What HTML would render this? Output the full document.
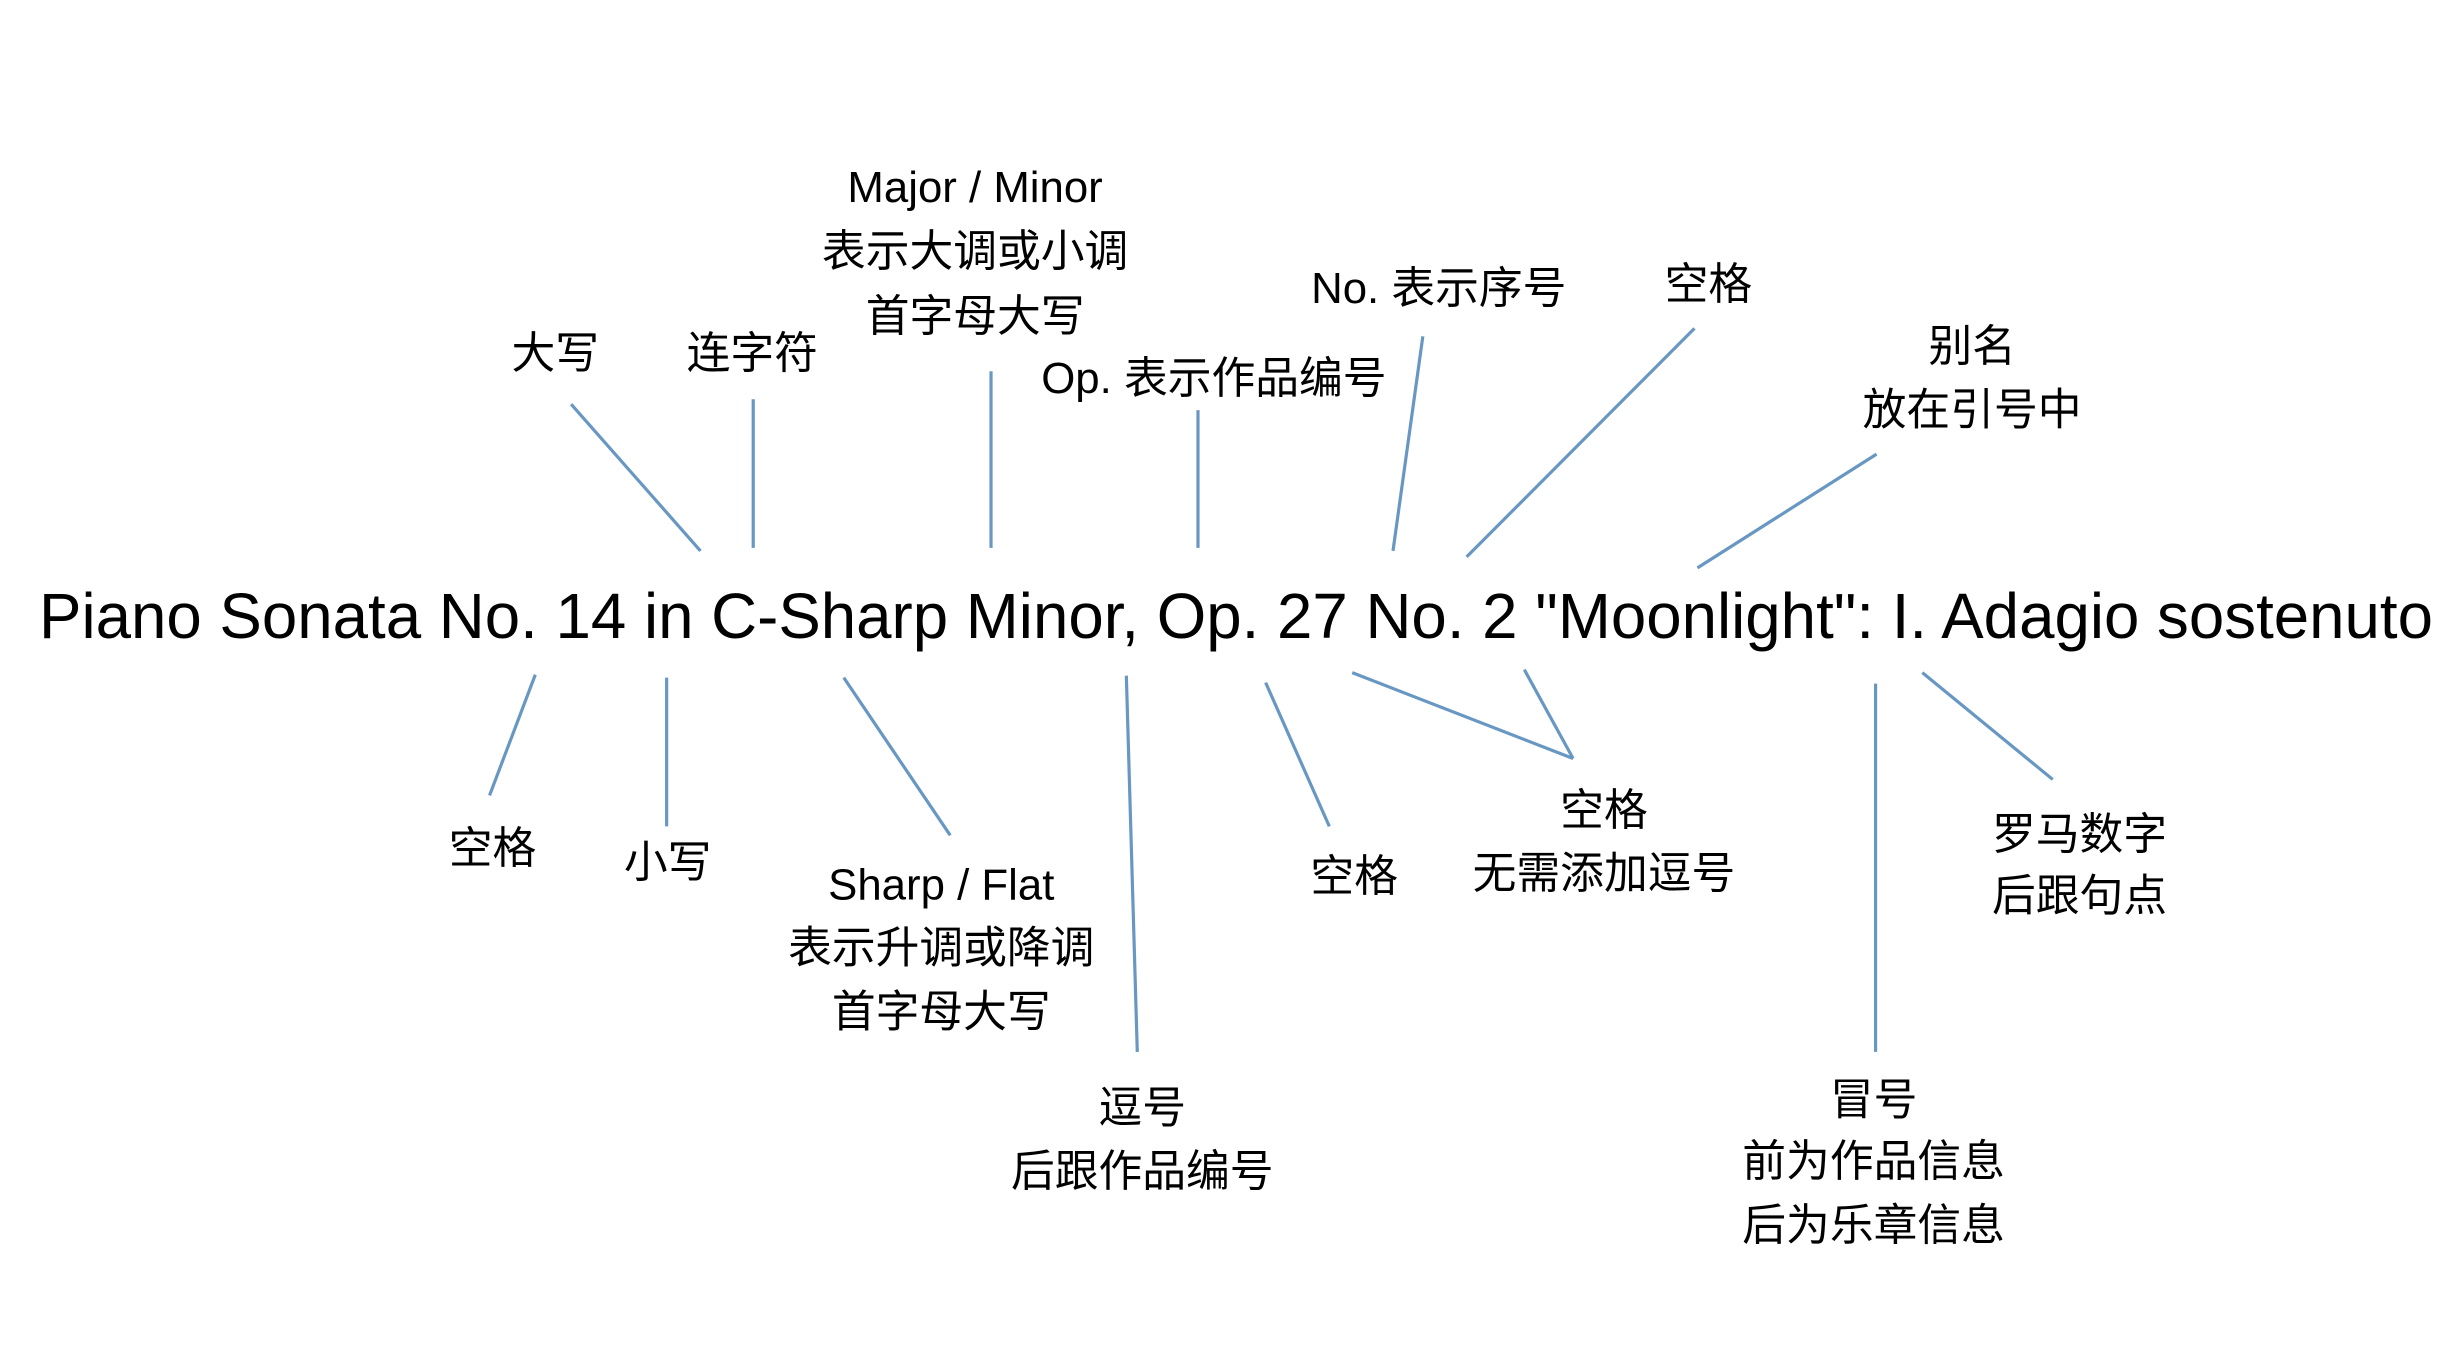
<!DOCTYPE html>
<html><head><meta charset="utf-8"><style>
html,body{margin:0;padding:0;background:#fff;}
svg{display:block;}
text{font-family:"Liberation Sans","Noto Sans CJK SC",sans-serif;fill:#000;}
.l{font-size:44px;text-anchor:middle;dominant-baseline:central;}
line{stroke:#6797c2;stroke-width:3.2;}
</style></head><body>
<svg width="2446" height="1350" viewBox="0 0 2446 1350" xmlns="http://www.w3.org/2000/svg">
<text x="39" y="638" font-size="64" textLength="2394" lengthAdjust="spacingAndGlyphs">Piano Sonata No. 14 in C-Sharp Minor, Op. 27 No. 2 "Moonlight": I. Adagio sostenuto</text>
<g transform="scale(0.995,0.998)">
<!-- top lines -->
<line x1="574" y1="405" x2="704" y2="552"/>
<line x1="757" y1="400" x2="757" y2="549"/>
<line x1="996" y1="372" x2="996" y2="549"/>
<line x1="1204" y1="411" x2="1204" y2="549"/>
<line x1="1430" y1="337" x2="1400" y2="552"/>
<line x1="1703" y1="329" x2="1474" y2="558"/>
<line x1="1886" y1="455" x2="1706" y2="569"/>
<!-- bottom lines -->
<line x1="538" y1="676" x2="492" y2="797"/>
<line x1="670" y1="679" x2="670" y2="828"/>
<line x1="848" y1="679" x2="955" y2="837"/>
<line x1="1132" y1="677" x2="1143" y2="1054"/>
<line x1="1272" y1="684" x2="1336" y2="828"/>
<line x1="1359" y1="674" x2="1581" y2="760"/>
<line x1="1532" y1="671" x2="1581" y2="760"/>
<line x1="1885" y1="685" x2="1885" y2="1054"/>
<line x1="1932" y1="674" x2="2063" y2="781"/>

<!-- top labels -->
<text class="l" x="558" y="354">大写</text>
<text class="l" x="756" y="354">连字符</text>
<text class="l" x="980" y="188">Major / Minor</text>
<text class="l" x="980" y="252">表示大调或小调</text>
<text class="l" x="980" y="317">首字母大写</text>
<text class="l" x="1220" y="379">Op. 表示作品编号</text>
<text class="l" x="1446" y="289">No. 表示序号</text>
<text class="l" x="1717" y="285">空格</text>
<text class="l" x="1982" y="347">别名</text>
<text class="l" x="1982" y="411">放在引号中</text>

<!-- bottom labels -->
<text class="l" x="495" y="850">空格</text>
<text class="l" x="671" y="864">小写</text>
<text class="l" x="946" y="887">Sharp / Flat</text>
<text class="l" x="946" y="950">表示升调或降调</text>
<text class="l" x="946" y="1014">首字母大写</text>
<text class="l" x="1148" y="1110">逗号</text>
<text class="l" x="1148" y="1174">后跟作品编号</text>
<text class="l" x="1361" y="878">空格</text>
<text class="l" x="1612" y="812">空格</text>
<text class="l" x="1612" y="875">无需添加逗号</text>
<text class="l" x="2090" y="836">罗马数字</text>
<text class="l" x="2090" y="898">后跟句点</text>
<text class="l" x="1883" y="1102">冒号</text>
<text class="l" x="1883" y="1164">前为作品信息</text>
<text class="l" x="1883" y="1228">后为乐章信息</text>
</g>
</svg>
</body></html>
